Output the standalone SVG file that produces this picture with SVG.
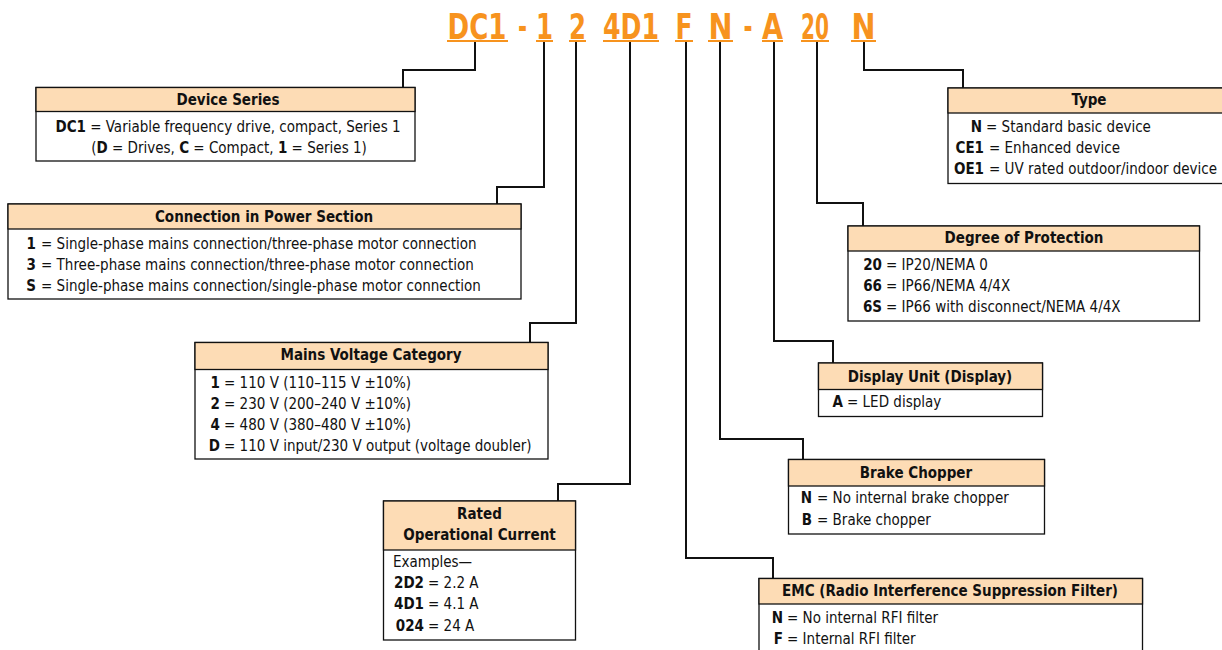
<svg xmlns="http://www.w3.org/2000/svg" width="1222" height="650" viewBox="0 0 1222 650">
<style>
text{font-family:"Liberation Sans Narrow","DejaVu Sans Condensed","Roboto Condensed",sans-serif;font-stretch:condensed;fill:#111}
.code{font-size:36px;font-weight:bold;fill:#F7931E;text-anchor:middle}
.ul{stroke:#F7931E;stroke-width:2}
.hd{font-size:15px;font-weight:bold;text-anchor:middle}
.b{font-size:15px}
.k{font-size:15px;font-weight:bold;text-anchor:end}
.box{fill:#fff;stroke:#111;stroke-width:1.3}
.hbox{fill:#FDDCB5;stroke:#111;stroke-width:1.3}
.con{fill:none;stroke:#111;stroke-width:2}
</style>
<rect width="1222" height="650" fill="#fff"/>
<g id="code">
<text class="code" y="38.5"><tspan x="477" textLength="59" lengthAdjust="spacingAndGlyphs">DC1</tspan><tspan x="522.5" textLength="9" lengthAdjust="spacingAndGlyphs">-</tspan><tspan x="544.5" textLength="17" lengthAdjust="spacingAndGlyphs">1</tspan><tspan x="577.5" textLength="17" lengthAdjust="spacingAndGlyphs">2</tspan><tspan x="631" textLength="56" lengthAdjust="spacingAndGlyphs">4D1</tspan><tspan x="684" textLength="17" lengthAdjust="spacingAndGlyphs">F</tspan><tspan x="720.5" textLength="24" lengthAdjust="spacingAndGlyphs">N</tspan><tspan x="748" textLength="9" lengthAdjust="spacingAndGlyphs">-</tspan><tspan x="772.5" textLength="21" lengthAdjust="spacingAndGlyphs">A</tspan><tspan x="815" textLength="28" lengthAdjust="spacingAndGlyphs">20</tspan><tspan x="863.5" textLength="24" lengthAdjust="spacingAndGlyphs">N</tspan></text>
<line class="ul" x1="447" y1="41" x2="508" y2="41"/>
<line class="ul" x1="536" y1="41" x2="553" y2="41"/>
<line class="ul" x1="569" y1="41" x2="586" y2="41"/>
<line class="ul" x1="603" y1="41" x2="659" y2="41"/>
<line class="ul" x1="675" y1="41" x2="693" y2="41"/>
<line class="ul" x1="708" y1="41" x2="733" y2="41"/>
<line class="ul" x1="762" y1="41" x2="783" y2="41"/>
<line class="ul" x1="801" y1="41" x2="829" y2="41"/>
<line class="ul" x1="851" y1="41" x2="876" y2="41"/>
</g>
<g id="connectors">
<polyline class="con" points="475,42 475,70 403,70 403,87"/>
<polyline class="con" points="544,42 544,187 497,187 497,204"/>
<polyline class="con" points="576,42 576,323 530,323 530,342"/>
<polyline class="con" points="630,42 630,484 558,484 558,501"/>
<polyline class="con" points="686,42 686,558 773,558 773,578"/>
<polyline class="con" points="720,42 720,439 803,439 803,459"/>
<polyline class="con" points="774,42 774,341 833,341 833,363"/>
<polyline class="con" points="817,42 817,203 863,203 863,226"/>
<polyline class="con" points="864,42 864,70 963,70 963,88"/>
</g>
<g id="device-series">
<rect class="box" x="36" y="87.5" width="379" height="73.5"/>
<rect class="hbox" x="36" y="87.5" width="379" height="24"/>
<text class="hd" x="228" y="105">Device Series</text>
<text class="b" x="228" y="132" text-anchor="middle"><tspan font-weight="bold">DC1</tspan> = Variable frequency drive, compact, Series 1</text>
<text class="b" x="229" y="153" text-anchor="middle">(<tspan font-weight="bold">D</tspan> = Drives, <tspan font-weight="bold">C</tspan> = Compact, <tspan font-weight="bold">1</tspan> = Series 1)</text>
</g>
<g id="power-section">
<rect class="box" x="8" y="204" width="513" height="95"/>
<rect class="hbox" x="8" y="204" width="513" height="25"/>
<text class="hd" x="264" y="222">Connection in Power Section</text>
<text class="k" x="36" y="249">1</text><text class="b" x="41" y="249">=  Single-phase mains connection/three-phase motor connection</text>
<text class="k" x="36" y="270">3</text><text class="b" x="41" y="270">=  Three-phase mains connection/three-phase motor connection</text>
<text class="k" x="36" y="291">S</text><text class="b" x="41" y="291">=  Single-phase mains connection/single-phase motor connection</text>
</g>
<g id="mains-voltage">
<rect class="box" x="195" y="342.5" width="353" height="116.5"/>
<rect class="hbox" x="195" y="342.5" width="353" height="27"/>
<text class="hd" x="371" y="360">Mains Voltage Category</text>
<text class="k" x="220" y="388">1</text><text class="b" x="224" y="388">=  110 V (110–115 V ±10%)</text>
<text class="k" x="220" y="409">2</text><text class="b" x="224" y="409">=  230 V (200–240 V ±10%)</text>
<text class="k" x="220" y="430">4</text><text class="b" x="224" y="430">=  480 V (380–480 V ±10%)</text>
<text class="k" x="220" y="451">D</text><text class="b" x="224" y="451">=  110 V input/230 V output (voltage doubler)</text>
</g>
<g id="rated-current">
<rect class="box" x="383.5" y="501" width="192" height="139"/>
<rect class="hbox" x="383.5" y="501" width="192" height="49"/>
<text class="hd" x="479.5" y="519">Rated</text>
<text class="hd" x="479.5" y="540">Operational Current</text>
<text class="b" x="393" y="567">Examples—</text>
<text class="k" x="424" y="588">2D2</text><text class="b" x="428" y="588">=  2.2 A</text>
<text class="k" x="424" y="609">4D1</text><text class="b" x="428" y="609">=  4.1 A</text>
<text class="k" x="424" y="631">024</text><text class="b" x="428" y="631">=  24 A</text>
</g>
<g id="type">
<rect class="box" x="948" y="88" width="280" height="95.5"/>
<rect class="hbox" x="948" y="88" width="280" height="25"/>
<text class="hd" x="1089" y="105">Type</text>
<text class="k" x="982" y="132">N</text><text class="b" x="986" y="132">=  Standard basic device</text>
<text class="k" x="984" y="153">CE1</text><text class="b" x="989" y="153">= Enhanced device</text>
<text class="k" x="984" y="174">OE1</text><text class="b" x="989" y="174">= UV rated outdoor/indoor device</text>
</g>
<g id="degree-protection">
<rect class="box" x="848" y="226" width="351.5" height="95"/>
<rect class="hbox" x="848" y="226" width="351.5" height="25"/>
<text class="hd" x="1024" y="243">Degree of Protection</text>
<text class="k" x="882" y="270">20</text><text class="b" x="886" y="270">=  IP20/NEMA 0</text>
<text class="k" x="882" y="291">66</text><text class="b" x="886" y="291">=  IP66/NEMA 4/4X</text>
<text class="k" x="882" y="312">6S</text><text class="b" x="886" y="312">=  IP66 with disconnect/NEMA 4/4X</text>
</g>
<g id="display-unit">
<rect class="box" x="818.5" y="363" width="224" height="53.5"/>
<rect class="hbox" x="818.5" y="363" width="224" height="26.5"/>
<text class="hd" x="930" y="382">Display Unit (Display)</text>
<text class="k" x="843" y="407">A</text><text class="b" x="847" y="407">=  LED display</text>
</g>
<g id="brake-chopper">
<rect class="box" x="788.5" y="459.5" width="256" height="74.5"/>
<rect class="hbox" x="788.5" y="459.5" width="256" height="26.5"/>
<text class="hd" x="916" y="478">Brake Chopper</text>
<text class="k" x="812" y="503">N</text><text class="b" x="817" y="503">=  No internal brake chopper</text>
<text class="k" x="812" y="525">B</text><text class="b" x="817" y="525">=  Brake chopper</text>
</g>
<g id="emc">
<rect class="box" x="759" y="578.5" width="383.5" height="80"/>
<rect class="hbox" x="759" y="578.5" width="383.5" height="25.5"/>
<text class="hd" x="950" y="596">EMC (Radio Interference Suppression Filter)</text>
<text class="k" x="783" y="623">N</text><text class="b" x="787" y="623">=  No internal RFI filter</text>
<text class="k" x="783" y="644">F</text><text class="b" x="787" y="644">=  Internal RFI filter</text>
</g>
</svg>
